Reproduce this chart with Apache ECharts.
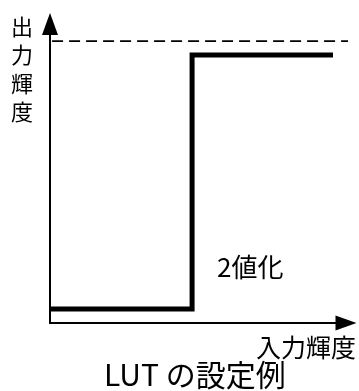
<!DOCTYPE html>
<html>
<head>
<meta charset="utf-8">
<script src="https://cdn.jsdelivr.net/npm/echarts@6/dist/echarts.min.js"></script>
<style>
  html, body { margin: 0; padding: 0; background: #fff; }
  #main { width: 359px; height: 391px; }
</style>
</head>
<body>
<div id="main"></div>
<script>
// 入力輝度 / 出力輝度 (0-100 のスケール)
var stepX = [0, 48, 48, 95.6];       // 入力
var stepY = [4.7, 4.7, 89.6, 89.6];  // 出力 (2値化)
var maxX = [0.7, 103];               // 最大出力の破線
var maxY = [94.3, 94.3];
var labelY = ['出', '力', '輝', '度'];

var font = '"Noto Sans CJK JP", "Noto Sans", sans-serif';

var stepData = [];
for (var i = 0; i < stepX.length; i++) {
    stepData.push([stepX[i], stepY[i]]);
}
var maxData = [];
for (var j = 0; j < maxX.length; j++) {
    maxData.push([maxX[j], maxY[j]]);
}

var chart = echarts.init(document.getElementById('main'));
var option = {
    animation: false,
    backgroundColor: '#fff',
    title: {
        text: 'LUT の設定例',
        left: 99,
        top: 355,
        textStyle: { fontFamily: font, fontSize: 30, fontWeight: 'normal', color: '#000' }
    },
    // 矢印は軸の端を中心に描かれるので、半分だけ内側に寄せる
    grid: { left: 50, top: 24, right: 13, bottom: 68 },
    xAxis: {
        type: 'value',
        min: 0,
        max: 100,
        axisLine: {
            lineStyle: { color: '#000', width: 2 },
            symbol: ['none', 'triangle'],
            symbolSize: [15, 21]
        },
        axisTick: { show: false },
        axisLabel: { show: false },
        splitLine: { show: false }
    },
    yAxis: {
        type: 'value',
        min: 0,
        max: 100,
        axisLine: {
            show: true,
            lineStyle: { color: '#000', width: 2 },
            symbol: ['none', 'triangle'],
            symbolSize: [16, 22]
        },
        axisTick: { show: false },
        axisLabel: { show: false },
        splitLine: { show: false }
    },
    graphic: [
        {
            type: 'text',
            left: 11,
            top: 12,
            style: {
                text: labelY.join('\n'),
                font: '22px ' + font,
                lineHeight: 28.5,
                fill: '#000'
            }
        },
        {
            type: 'text',
            right: 3,
            top: 335,
            style: { text: '入力輝度', font: '25px ' + font, fill: '#000' }
        },
        {
            type: 'text',
            left: 217,
            top: 254,
            style: { text: '2値化', font: '26px ' + font, fill: '#000' }
        }
    ],
    series: [
        {
            type: 'line',
            data: maxData,
            clip: false,
            showSymbol: false,
            silent: true,
            lineStyle: { color: '#000', width: 1.8, type: [11, 6] }
        },
        {
            type: 'line',
            data: stepData,
            showSymbol: false,
            silent: true,
            lineStyle: { color: '#000', width: 5, join: 'miter', cap: 'butt' }
        }
    ]
};
chart.setOption(option);
</script>
</body>
</html>
